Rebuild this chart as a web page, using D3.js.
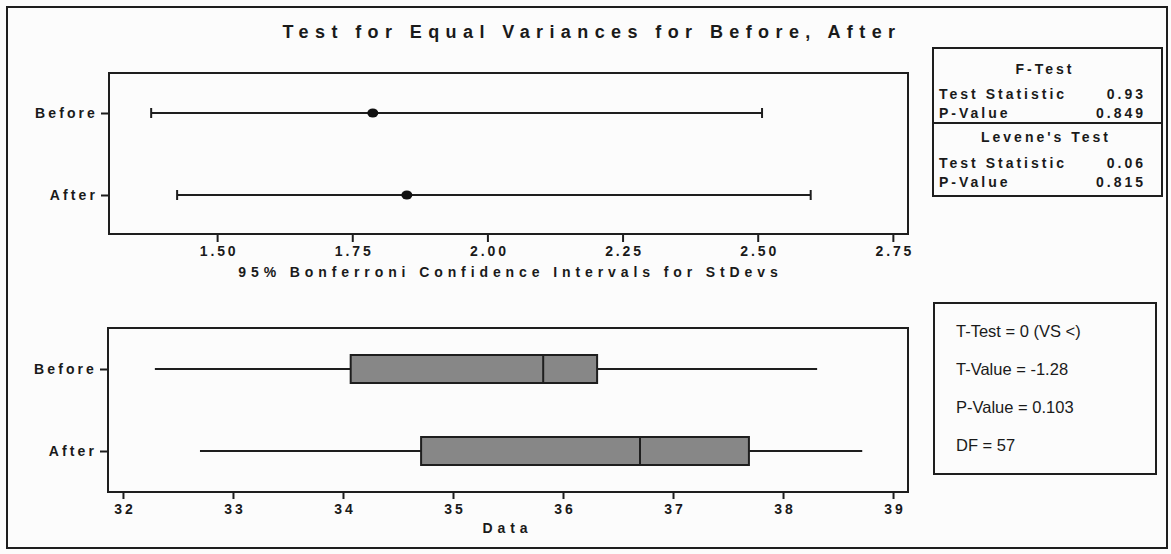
<!DOCTYPE html>
<html>
<head>
<meta charset="utf-8">
<script src="https://cdn.jsdelivr.net/npm/d3@7"></script>
<style>
  body { margin: 0; background: #fcfcfc; }
  svg { display: block; }
  text { font-family: Arial, "Liberation Sans", sans-serif; fill: #1a1a1a; }
</style>
</head>
<body>
<div id="chart"></div>
<script>
const groups = ["Before", "After"]

// 95% Bonferroni confidence intervals for the standard deviations
const ciLower = [1.378, 1.426]
const ciSigma = [1.788, 1.851]
const ciUpper = [2.508, 2.598]
const ciTicks = [1.50, 1.75, 2.00, 2.25, 2.50, 2.75]

// boxplot summary of the data
const whiskLow = [32.29, 32.70]
const quart1 = [34.07, 34.71]
const medians = [35.82, 36.70]
const quart3 = [36.31, 37.69]
const whiskHigh = [38.31, 38.72]
const dataTicks = [32, 33, 34, 35, 36, 37, 38, 39]

const fTestRows = [["Test Statistic", "0.93"], ["P-Value", "0.849"]]
const leveneRows = [["Test Statistic", "0.06"], ["P-Value", "0.815"]]
const tTestLines = ["T-Test = 0 (VS <)", "T-Value = -1.28", "P-Value = 0.103", "DF = 57"]

const W = 1171, H = 554
const INK = "#1e1e1e"

const svg = d3.select("#chart").append("svg")
    .attr("width", W).attr("height", H)

// outer frame
svg.append("rect")
    .attr("x", 7).attr("y", 7).attr("width", 1160).attr("height", 541)
    .attr("fill", "none").attr("stroke", INK).attr("stroke-width", 2)

svg.append("text")
    .attr("x", 589 + 3).attr("y", 38)
    .attr("text-anchor", "middle")
    .style("font-size", "18px").style("font-weight", "bold")
    .style("letter-spacing", "6.4px")
    .text("Test for Equal Variances for Before, After")

const TOP = {L: 109, R: 908, T: 73, B: 234}
const BOT = {L: 108, R: 908, T: 328, B: 492}

function styleAxis(g, ls) {
    g.select(".domain").remove()
    g.selectAll("line").attr("stroke", INK).attr("stroke-width", 2)
    g.selectAll("text")
        .attr("fill", INK)
        .style("font-size", "14px").style("font-weight", "bold")
        .style("font-family", 'Arial, "Liberation Sans", sans-serif')
        .style("letter-spacing", ls + "px")
}

function frame(p) {
    svg.append("rect")
        .attr("x", p.L).attr("y", p.T).attr("width", p.R - p.L).attr("height", p.B - p.T)
        .attr("fill", "none").attr("stroke", INK).attr("stroke-width", 2)
}

// ---------- top panel: confidence intervals ----------
const x1 = d3.scaleLinear().domain([1.30, 2.778]).range([TOP.L, TOP.R])
const y1 = d3.scalePoint().domain(groups).range([113, 195])

svg.append("g")
    .attr("transform", `translate(0,${TOP.B})`)
    .call(d3.axisBottom(x1).tickValues(ciTicks).tickFormat(d3.format(".2f")).tickSize(8))
    .call(g => styleAxis(g, 2.9))
    .call(g => g.selectAll("text").attr("y", 22).attr("dy", null).attr("dx", 1.5))

svg.append("g")
    .attr("transform", `translate(${TOP.L},0)`)
    .call(d3.axisLeft(y1).tickSize(8).tickPadding(3))
    .call(g => styleAxis(g, 3.1))

const ci = groups.map((g, i) => ({g, lo: ciLower[i], est: ciSigma[i], hi: ciUpper[i]}))

const ciG = svg.append("g").selectAll("g").data(ci).enter().append("g")
ciG.append("line")
    .attr("x1", d => x1(d.lo)).attr("x2", d => x1(d.hi))
    .attr("y1", d => y1(d.g)).attr("y2", d => y1(d.g))
    .attr("stroke", INK).attr("stroke-width", 2)
ciG.selectAll(".cap").data(d => [[d.lo, d.g], [d.hi, d.g]]).enter().append("line")
    .attr("x1", d => x1(d[0])).attr("x2", d => x1(d[0]))
    .attr("y1", d => y1(d[1]) - 5).attr("y2", d => y1(d[1]) + 5)
    .attr("stroke", INK).attr("stroke-width", 2)
ciG.append("ellipse")
    .attr("cx", d => x1(d.est)).attr("cy", d => y1(d.g))
    .attr("rx", 5.5).attr("ry", 4.5)
    .attr("fill", "#111")

frame(TOP)

svg.append("text")
    .attr("x", 508 + 2.5).attr("y", 277)
    .attr("text-anchor", "middle")
    .style("font-size", "14px").style("font-weight", "bold")
    .style("letter-spacing", "4.9px")
    .text("95% Bonferroni Confidence Intervals for StDevs")

// ---------- bottom panel: boxplots ----------
const x2 = d3.scaleLinear().domain([31.864, 39.136]).range([BOT.L, BOT.R])
const y2 = d3.scalePoint().domain(groups).range([369, 451])

svg.append("g")
    .attr("transform", `translate(0,${BOT.B})`)
    .call(d3.axisBottom(x2).tickValues(dataTicks).tickFormat(d3.format("d")).tickSize(7))
    .call(g => styleAxis(g, 2.9))
    .call(g => g.selectAll("text").attr("y", 22).attr("dy", null).attr("dx", 1.5))

svg.append("g")
    .attr("transform", `translate(${BOT.L},0)`)
    .call(d3.axisLeft(y2).tickSize(8).tickPadding(3))
    .call(g => styleAxis(g, 3.1))

const boxes = groups.map((g, i) => ({g, wl: whiskLow[i], q1: quart1[i], med: medians[i], q3: quart3[i], wh: whiskHigh[i]}))
const HALF = 14

const bG = svg.append("g").selectAll("g").data(boxes).enter().append("g")
bG.append("line")
    .attr("x1", d => x2(d.wl)).attr("x2", d => x2(d.q1))
    .attr("y1", d => y2(d.g)).attr("y2", d => y2(d.g))
    .attr("stroke", INK).attr("stroke-width", 2)
bG.append("line")
    .attr("x1", d => x2(d.q3)).attr("x2", d => x2(d.wh))
    .attr("y1", d => y2(d.g)).attr("y2", d => y2(d.g))
    .attr("stroke", INK).attr("stroke-width", 2)
bG.append("rect")
    .attr("x", d => x2(d.q1)).attr("width", d => x2(d.q3) - x2(d.q1))
    .attr("y", d => y2(d.g) - HALF).attr("height", HALF * 2)
    .attr("fill", "#878787").attr("stroke", INK).attr("stroke-width", 2)
bG.append("line")
    .attr("x1", d => x2(d.med)).attr("x2", d => x2(d.med))
    .attr("y1", d => y2(d.g) - HALF).attr("y2", d => y2(d.g) + HALF)
    .attr("stroke", INK).attr("stroke-width", 2)

frame(BOT)

svg.append("text")
    .attr("x", 505 + 2.5).attr("y", 533)
    .attr("text-anchor", "middle")
    .style("font-size", "14px").style("font-weight", "bold")
    .style("letter-spacing", "4.9px")
    .text("Data")

// ---------- F-test / Levene box ----------
const sb = svg.append("g")
sb.append("rect")
    .attr("x", 933).attr("y", 48).attr("width", 229).attr("height", 148)
    .attr("fill", "none").attr("stroke", INK).attr("stroke-width", 2)
sb.append("line")
    .attr("x1", 933).attr("x2", 1162).attr("y1", 123).attr("y2", 123)
    .attr("stroke", INK).attr("stroke-width", 2)

function statText(t, x, y, anchor) {
    sb.append("text")
        .attr("x", x).attr("y", y)
        .attr("text-anchor", anchor)
        .style("font-size", "14px").style("font-weight", "bold")
        .style("letter-spacing", "3px")
        .text(t)
}
statText("F-Test", 1045, 74, "middle")
statText("Levene's Test", 1046, 142, "middle")
const rowY = [[99, 118], [168, 187]]
;[fTestRows, leveneRows].forEach((rows, k) => {
    rows.forEach((r, j) => {
        statText(r[0], 939, rowY[k][j], "start")
        statText(r[1], 1146, rowY[k][j], "end")
    })
})

// ---------- t-test box ----------
svg.append("rect")
    .attr("x", 934).attr("y", 303).attr("width", 222).attr("height", 171)
    .attr("fill", "none").attr("stroke", INK).attr("stroke-width", 2)

svg.append("g").selectAll("text").data(tTestLines).enter().append("text")
    .attr("x", 956)
    .attr("y", (d, i) => 337 + i * 38)
    .style("font-size", "16.5px")
    .text(d => d)
</script>
</body>
</html>
